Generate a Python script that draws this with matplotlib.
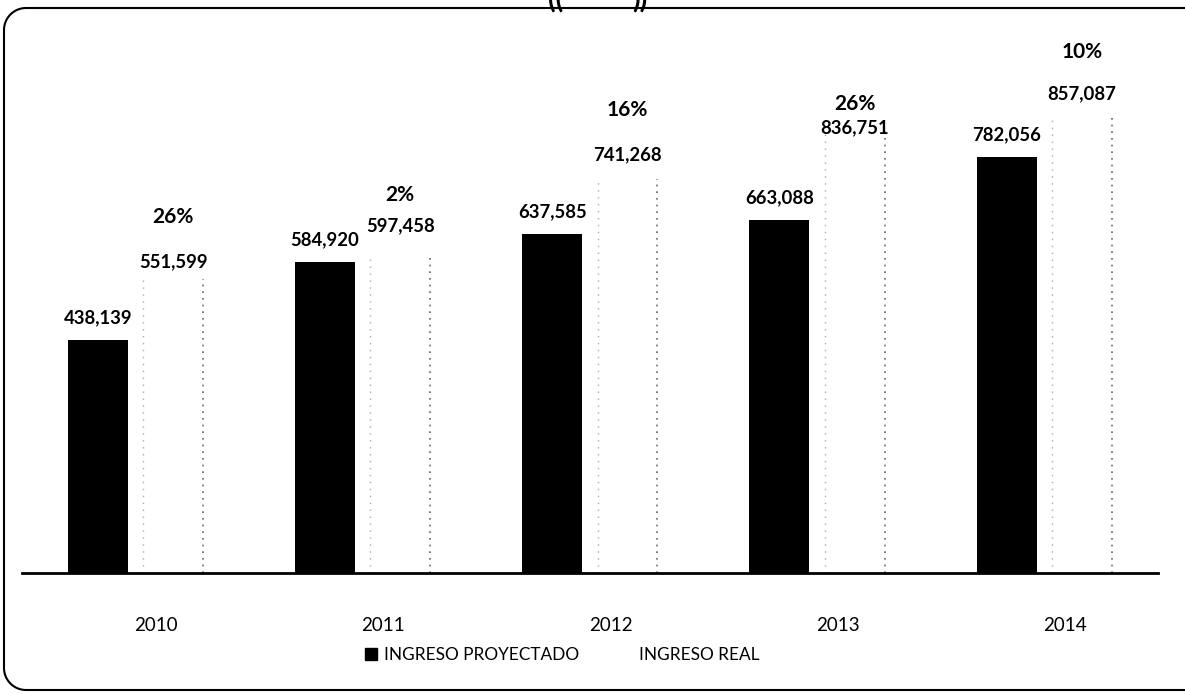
import numpy as np
import matplotlib
matplotlib.use("Agg")
import matplotlib.pyplot as plt
from matplotlib.patches import Patch
from matplotlib.lines import Line2D

years = ["2010", "2011", "2012", "2013", "2014"]
proyectado = [438139, 584920, 637585, 663088, 782056]
real = [551599, 597458, 741268, 836751, 857087]
variacion = ["26%", "2%", "16%", "26%", "10%"]

# label spacing (points) as seen in the original
val_gap = [13, 21, 17, 0, 17]
pct_gap = [32, 22, 32, 17, 30]

plt.rcParams["font.family"] = ["Lato", "DejaVu Sans"]

fig = plt.figure(figsize=(11.85, 6.94), dpi=100)
ax = fig.add_axes([0.0186, 0.1744, 0.9586, 0.7826])

x = np.arange(len(years))
w = 0.264
xp = x - 0.256
xr = x + 0.075

ax.bar(xp, proyectado, w, color="black", label="INGRESO PROYECTADO")
ax.bar(xr, real, w, color="white", edgecolor="none", label="INGRESO REAL")
# faint dotted edges of the white bars
ax.vlines(xr - w / 2, 0, real, colors="#aaaaaa", linestyles=(0, (1, 4)), lw=1)
ax.vlines(xr + w / 2, 0, real, colors="#666666", linestyles=(0, (1, 3)), lw=1.2)

for i in range(len(years)):
    ax.annotate(f"{proyectado[i]:,}", (xp[i], proyectado[i]), xytext=(0, 16),
                textcoords="offset points", ha="center", va="center",
                fontsize=13.3, fontweight="bold")
    ax.annotate(f"{real[i]:,}", (xr[i], real[i]), xytext=(0, val_gap[i]),
                textcoords="offset points", ha="center", va="center",
                fontsize=13.3, fontweight="bold")
    ax.annotate(variacion[i], (xr[i], real[i]),
                xytext=(0, val_gap[i] + pct_gap[i]),
                textcoords="offset points", ha="center", va="center",
                fontsize=15, fontweight="bold")

ax.set_xlim(-0.59, 4.41)
ax.set_ylim(0, 1.0207e6)
ax.set_xticks(x)
ax.set_xticklabels(years, fontsize=13.5)
ax.tick_params(axis="x", length=0, pad=32)
ax.set_yticks([])
for s in ["left", "right", "top"]:
    ax.spines[s].set_visible(False)
ax.spines["bottom"].set_linewidth(2)
ax.spines["bottom"].set_color("black")

handles = [Patch(facecolor="black", edgecolor="black"),
           Patch(facecolor="white", edgecolor="white")]
fig.legend(handles, ["INGRESO PROYECTADO", "INGRESO REAL"], loc="center",
           bbox_to_anchor=(562 / 1185, 1 - 655 / 694), ncol=2, frameon=False,
           fontsize=12.4, handlelength=0.7, handleheight=0.7,
           handletextpad=0.4, columnspacing=2.4)

# frame: rounded on the left, running off the page on the right (inches)
r = 0.22
x0, y0, y1 = 0.04, 0.04, 6.86
t = np.linspace(0, np.pi / 2, 20)
fx = np.concatenate([[12.0], x0 + r - r * np.sin(t), x0 + r - r * np.cos(t), [12.0]])
fy = np.concatenate([[y1], y1 - r + r * np.cos(t), y0 + r - r * np.sin(t), [y0]])
fig.add_artist(Line2D(fx, fy, transform=fig.dpi_scale_trans, color="black", lw=1.5))

# clipped heading marks at the top
fig.text(556 / 1185, 1.0, "((", ha="center", va="center", fontsize=20,
         fontweight="bold")
fig.text(640 / 1185, 1.0, "))", ha="center", va="center", fontsize=20,
         fontweight="bold")

fig.savefig("out.png", dpi=100)
